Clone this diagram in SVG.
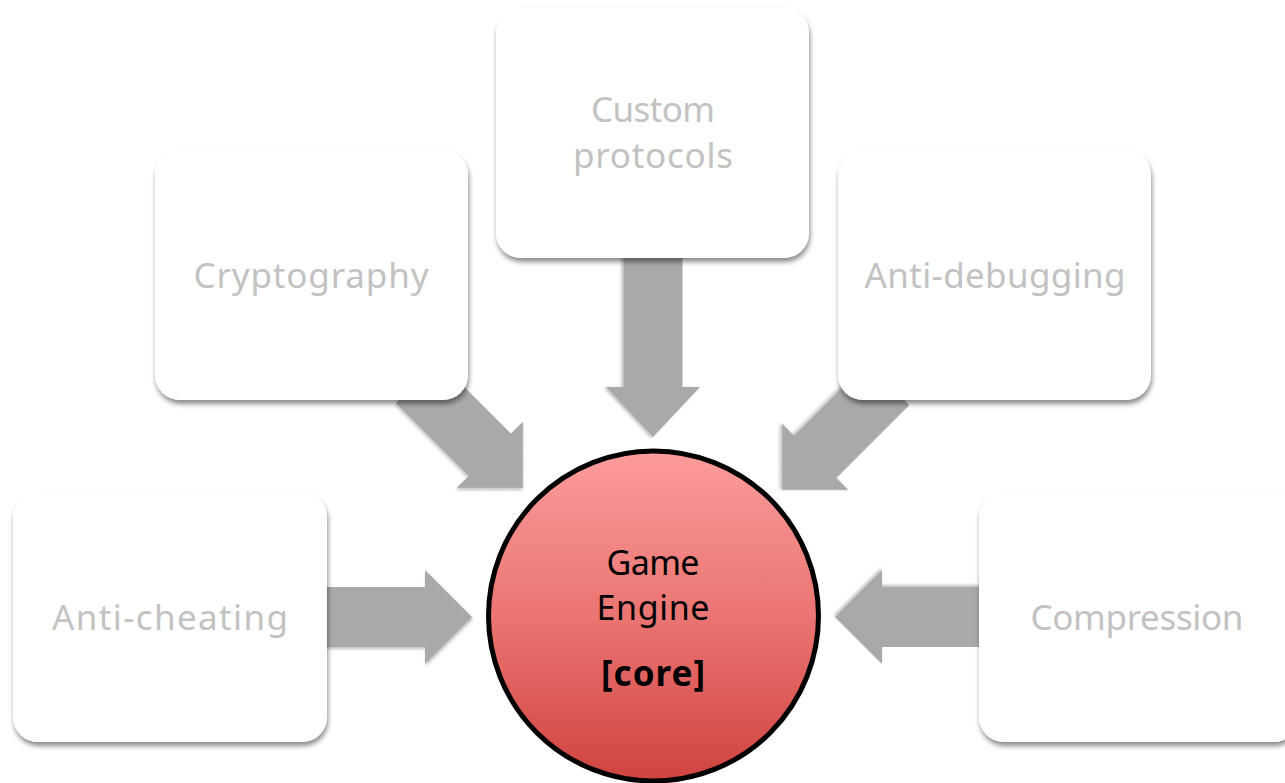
<svg xmlns="http://www.w3.org/2000/svg" width="1285" height="783" viewBox="0 0 1285 783">
  <defs>
    <filter id="boxShadow" x="-10%" y="-10%" width="120%" height="125%">
      <feDropShadow dx="1" dy="4" stdDeviation="2.5" flood-color="#000" flood-opacity="0.45"/>
    </filter>
    <filter id="arrowShadow" x="-10%" y="-10%" width="120%" height="120%">
      <feDropShadow dx="1" dy="2" stdDeviation="1.5" flood-color="#000" flood-opacity="0.25"/>
    </filter>
    <linearGradient id="coreFill" x1="0" y1="0" x2="0" y2="1">
      <stop offset="0" stop-color="#fb9c9b"/>
      <stop offset="0.5" stop-color="#ea7572"/>
      <stop offset="1" stop-color="#d0433f"/>
    </linearGradient>
  </defs>
  <style>
    .box { fill: #ffffff; filter: url(#boxShadow); }
    .arrow { fill: #a9a9a9; filter: url(#arrowShadow); }
    .label { font-family: "Comic Sans MS", "Noto Sans", "DejaVu Sans", sans-serif; font-size: 35px; fill: #c2c2c2; text-anchor: middle; }
    .core { font-family: "Comic Sans MS", "Noto Sans", "DejaVu Sans", sans-serif; font-size: 34px; fill: #000000; text-anchor: middle; }
    .coreTag { font-weight: bold; font-size: 35px; }
  </style>

  <!-- block arrows pointing at the engine; tip at local origin -->
  <g id="connectors">
    <path class="arrow" transform="translate(472,617)" d="M0,0 L-47,-47 L-47,-30 L-152,-30 L-152,30 L-47,30 L-47,47 Z"/>
    <path class="arrow" transform="translate(835,617) rotate(180)" d="M0,0 L-47,-47 L-47,-30 L-150,-30 L-150,30 L-47,30 L-47,47 Z"/>
    <path class="arrow" transform="translate(653,437) rotate(90)" d="M0,0 L-50,-47 L-50,-29.5 L-184,-29.5 L-184,29.5 L-50,29.5 L-50,47 Z"/>
    <path class="arrow" transform="translate(523,488) rotate(45)" d="M0,0 L-47,-47 L-47,-30 L-150,-30 L-150,30 L-47,30 L-47,47 Z"/>
    <path class="arrow" transform="translate(782,490) rotate(135)" d="M0,0 L-47,-47 L-47,-30 L-150,-30 L-150,30 L-47,30 L-47,47 Z"/>
  </g>

  <g id="node-custom-protocols">
    <rect class="box" x="496" y="8" width="313" height="250" rx="25"/>
    <text class="label" x="653" y="122" textLength="124">Custom</text>
    <text class="label" x="653" y="168" textLength="160">protocols</text>
  </g>

  <g id="node-cryptography">
    <rect class="box" x="155" y="150" width="313" height="250" rx="25"/>
    <text class="label" x="311" y="288" textLength="235">Cryptography</text>
  </g>

  <g id="node-anti-debugging">
    <rect class="box" x="838" y="150" width="313" height="250" rx="25"/>
    <text class="label" x="995" y="288" textLength="261">Anti-debugging</text>
  </g>

  <g id="node-anti-cheating">
    <rect class="box" x="13" y="492" width="314" height="250" rx="25"/>
    <text class="label" x="170" y="630" textLength="236">Anti-cheating</text>
  </g>

  <g id="node-compression">
    <rect class="box" x="979" y="492" width="320" height="250" rx="25"/>
    <text class="label" x="1137" y="630" textLength="213">Compression</text>
  </g>

  <g id="node-game-engine">
    <circle cx="653.5" cy="616" r="165" fill="url(#coreFill)" stroke="#000" stroke-width="5"/>
    <text class="core" x="653" y="575" textLength="93">Game</text>
    <text class="core" x="653" y="620" textLength="113">Engine</text>
    <text class="core coreTag" x="653" y="686" textLength="104">[core]</text>
  </g>
</svg>
